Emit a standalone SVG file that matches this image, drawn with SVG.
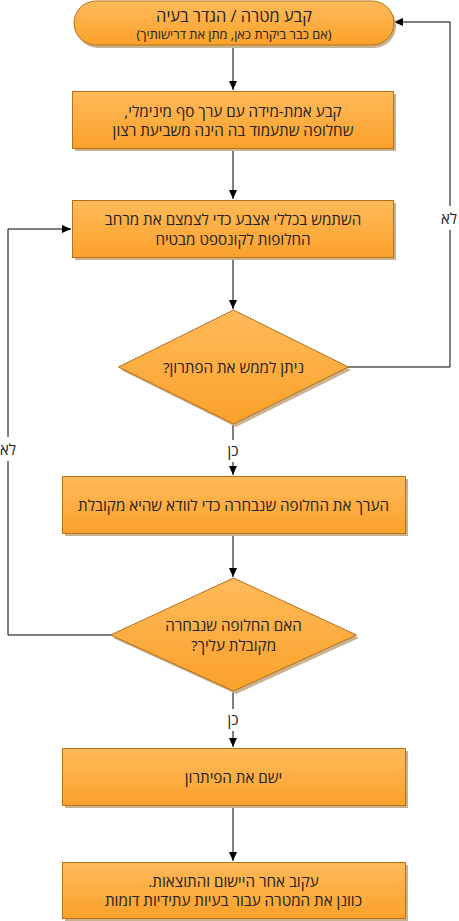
<svg xmlns="http://www.w3.org/2000/svg" width="459" height="921" viewBox="0 0 459 921">
<style>
.node{fill:url(#og);stroke:#b5701a;stroke-width:1}
.shadow{fill:#c9b28e}
text{font-family:"Open Sans","DejaVu Sans",sans-serif;fill:#222;text-anchor:middle;direction:rtl;dominant-baseline:central}
.t{font-size:15.2px}
.s{font-size:12.8px}
.h{font-size:16.4px}
.lbl{font-size:15px}
.edge{fill:none;stroke:#000;stroke-width:1}
</style>
<defs>
<linearGradient id="og" x1="0" y1="0" x2="0" y2="1">
<stop offset="0" stop-color="#ffba5a"/>
<stop offset="1" stop-color="#faa12a"/>
</linearGradient>
<marker id="ah" markerWidth="10" markerHeight="10" refX="9" refY="5" orient="auto" markerUnits="userSpaceOnUse">
<path d="M0,1 L9,5 L0,9 Z" fill="#000"/>
</marker>
</defs>
<rect width="459" height="921" fill="#fff"/>
<g id="connectors">
<path class="edge" d="M233,45 V90" marker-end="url(#ah)"/>
<path class="edge" d="M233,148 V199" marker-end="url(#ah)"/>
<path class="edge" d="M233,257 V309" marker-end="url(#ah)"/>
<path class="edge" d="M233,424 V475" marker-end="url(#ah)"/>
<path class="edge" d="M233,533 V577" marker-end="url(#ah)"/>
<path class="edge" d="M233,691 V747" marker-end="url(#ah)"/>
<path class="edge" d="M233,805 V861" marker-end="url(#ah)"/>
<path class="edge" d="M348,367 H450 V22 H394" marker-end="url(#ah)"/>
<path class="edge" d="M111,635 H8 V229 H71" marker-end="url(#ah)"/>
<rect x="223" y="440" width="20" height="22" fill="#fff"/>
<text class="lbl" x="233" y="450">כן</text>
<rect x="223" y="709" width="20" height="22" fill="#fff"/>
<text class="lbl" x="233" y="719">כן</text>
<rect x="439" y="206" width="20" height="24" fill="#fff"/>
<text class="lbl" x="449" y="218">לא</text>
<rect x="0" y="437" width="18" height="24" fill="#fff"/>
<text class="lbl" x="8" y="449">לא</text>
</g>
<g id="n1">
<rect class="shadow" x="76" y="4" width="320" height="44" rx="22"/>
<rect class="node" x="74" y="1" width="320" height="44" rx="22"/>
<text class="h" x="234" y="15">קבע מטרה / הגדר בעיה</text>
<text class="s" x="234" y="34">(אם כבר ביקרת כאן, מתן את דרישותיך)</text>
</g>
<g id="n2">
<rect class="shadow" x="75" y="94" width="321" height="57"/>
<rect class="node" x="72.5" y="91.5" width="321" height="57"/>
<text class="t" x="233" y="111">קבע אמת-מידה עם ערך סף מינימלי,</text>
<text class="t" x="233" y="130">שחלופה שתעמוד בה הינה משביעת רצון</text>
</g>
<g id="n3">
<rect class="shadow" x="75" y="203" width="321" height="57"/>
<rect class="node" x="72.5" y="200.5" width="321" height="57"/>
<text class="t" x="233" y="219">השתמש בכללי אצבע כדי לצמצם את מרחב</text>
<text class="t" x="233" y="239">החלופות לקונספט מבטיח</text>
</g>
<g id="d1">
<path class="shadow" d="M236,313 L351,370 L236,427 L121,370 Z"/>
<path class="node" d="M233.5,310 L348.5,367 L233.5,424 L118.5,367 Z"/>
<text class="t" x="233.5" y="367">ניתן לממש את הפתרון?</text>
</g>
<g id="n4">
<rect class="shadow" x="65" y="479" width="343" height="57"/>
<rect class="node" x="62.5" y="476.5" width="343" height="57"/>
<text class="t" x="233.5" y="505">הערך את החלופה שנבחרה כדי לוודא שהיא מקובלת</text>
</g>
<g id="d2">
<path class="shadow" d="M236,581 L359,638 L236,694 L113,638 Z"/>
<path class="node" d="M233.5,578 L356.5,635 L233.5,691 L110.5,635 Z"/>
<text class="t" x="233.5" y="625">האם החלופה שנבחרה</text>
<text class="t" x="233.5" y="645">מקובלת עליך?</text>
</g>
<g id="n5">
<rect class="shadow" x="65" y="751" width="343" height="57"/>
<rect class="node" x="62.5" y="748.5" width="343" height="57"/>
<text class="t" x="233.5" y="777">ישם את הפיתרון</text>
</g>
<g id="n6">
<rect class="shadow" x="65" y="865" width="343" height="56"/>
<rect class="node" x="62.5" y="862.5" width="343" height="56"/>
<text class="t" x="233.5" y="881">עקוב אחר היישום והתוצאות.</text>
<text class="t" x="233.5" y="900">כוונן את המטרה עבור בעיות עתידיות דומות</text>
</g>
</svg>
